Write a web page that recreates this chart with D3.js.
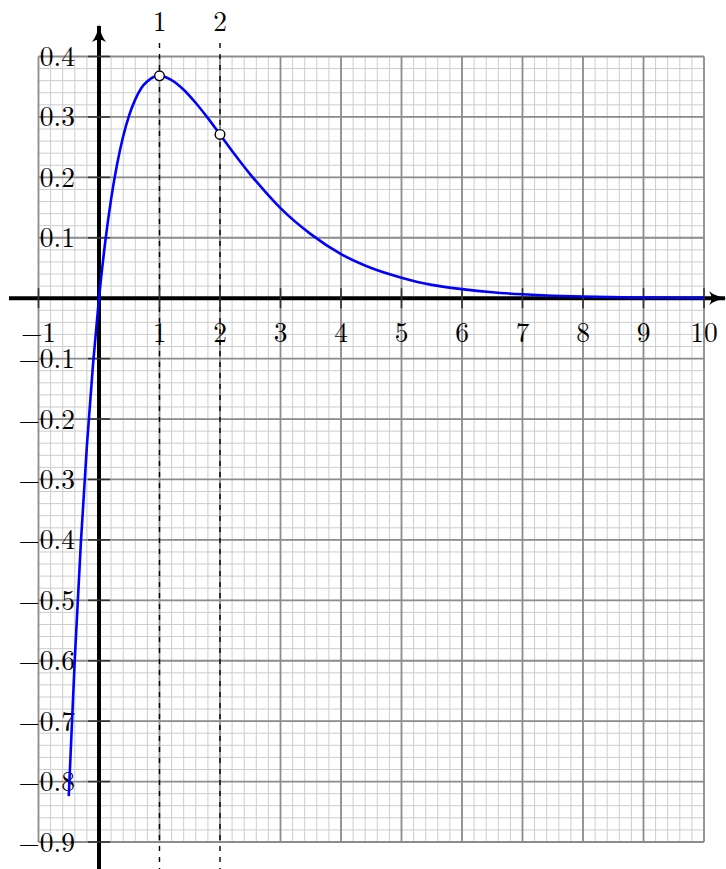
<!DOCTYPE html>
<html>
<head>
<meta charset="utf-8">
<script src="https://cdn.jsdelivr.net/npm/d3@7"></script>
<style>
  body { margin: 0; background: #fff; }
  text { font-family: "Latin Modern Roman", "CMU Serif", "Liberation Serif", serif; font-size: 27.5px; fill: #000; }
</style>
</head>
<body>
<div id="chart"></div>
<script>
// Curve samples
var xVals = [-0.5, -0.4, -0.3, -0.2, -0.1, 0, 0.1, 0.2, 0.3, 0.4, 0.5, 0.6, 0.7, 0.8, 0.9, 1,
    1.2, 1.4, 1.6, 1.8, 2, 2.25, 2.5, 2.75, 3, 3.5, 4, 4.5, 5, 5.5, 6, 6.5, 7, 7.5, 8, 9, 10];
var yVals = [-0.824, -0.597, -0.405, -0.244, -0.111, 0, 0.0905, 0.164, 0.222, 0.268, 0.303, 0.329, 0.348, 0.359, 0.366, 0.368,
    0.361, 0.345, 0.323, 0.298, 0.271, 0.237, 0.205, 0.176, 0.149, 0.106, 0.073, 0.050, 0.034, 0.022, 0.015, 0.0098, 0.0064, 0.0041, 0.0027, 0.0011, 0.00045];

// Marked points and dashed guides
var markX = [1, 2];
var markY = [0.368, 0.271];
var guideLbls = ["1", "2"];

// Tick labels
var xTicks = [-1, 1, 2, 3, 4, 5, 6, 7, 8, 9, 10];
var xTickLbls = ["\u22121", "1", "2", "3", "4", "5", "6", "7", "8", "9", "10"];
var yTicks = [0.4, 0.3, 0.2, 0.1, -0.1, -0.2, -0.3, -0.4, -0.5, -0.6, -0.7, -0.8, -0.9];
var yTickLbls = ["0.4", "0.3", "0.2", "0.1", "\u22120.1", "\u22120.2", "\u22120.3", "\u22120.4", "\u22120.5", "\u22120.6", "\u22120.7", "\u22120.8", "\u22120.9"];

// Set up SVG
var svgWdt = 726;
var svgHgt = 869;

var svg = d3.select("#chart").append("svg")
    .attr("width", svgWdt)
    .attr("height", svgHgt);

// Scales
var xScale = d3.scaleLinear().domain([-1, 10]).range([38.5, 704]);
var yScale = d3.scaleLinear().domain([-0.9, 0.4]).range([842, 56.5]);

// Minor grid
var gridGrp = svg.append("g");
d3.range(-1, 10.001, 0.2).forEach(v => {
    gridGrp.append("line")
        .attr("x1", xScale(v)).attr("x2", xScale(v))
        .attr("y1", yScale(-0.9)).attr("y2", yScale(0.4))
        .attr("stroke", "#cdcdcd").attr("stroke-width", 1);
});
d3.range(-0.9, 0.4001, 0.02).forEach(v => {
    gridGrp.append("line")
        .attr("x1", xScale(-1)).attr("x2", xScale(10))
        .attr("y1", yScale(v)).attr("y2", yScale(v))
        .attr("stroke", "#cdcdcd").attr("stroke-width", 1);
});

// Major grid
d3.range(-1, 10.001, 1).forEach(v => {
    gridGrp.append("line")
        .attr("x1", xScale(v)).attr("x2", xScale(v))
        .attr("y1", yScale(-0.9)).attr("y2", yScale(0.4))
        .attr("stroke", "#8c8c8c").attr("stroke-width", 1.8);
});
d3.range(-0.9, 0.4001, 0.1).forEach(v => {
    gridGrp.append("line")
        .attr("x1", xScale(-1)).attr("x2", xScale(10))
        .attr("y1", yScale(v)).attr("y2", yScale(v))
        .attr("stroke", "#8c8c8c").attr("stroke-width", 1.8);
});

// Dashed guides
svg.selectAll(".guide").data(markX)
    .enter()
    .append("line")
        .attr("class", "guide")
        .attr("x1", d => xScale(d)).attr("x2", d => xScale(d))
        .attr("y1", 43).attr("y2", svgHgt)
        .attr("stroke", "#000").attr("stroke-width", 1.4)
        .attr("stroke-dasharray", "5,6");
svg.selectAll(".guideLbl").data(markX)
    .enter()
    .append("text")
        .attr("x", d => xScale(d))
        .attr("y", 31)
        .attr("text-anchor", "middle")
        .text((d, i) => guideLbls[i]);

// Arrow marker
var defs = svg.append("defs");
defs.append("marker")
    .attr("id", "arr")
    .attr("viewBox", "0 -7 18 14")
    .attr("refX", 16).attr("refY", 0)
    .attr("markerUnits", "userSpaceOnUse")
    .attr("markerWidth", 18).attr("markerHeight", 14)
    .attr("orient", "auto")
    .append("path")
        .attr("d", "M0,-7 Q7,-1.5 18,0 Q7,1.5 0,7 Q5,0 0,-7 Z")
        .attr("fill", "#000");

// Axes
svg.append("line")
    .attr("x1", 9).attr("x2", 725)
    .attr("y1", yScale(0)).attr("y2", yScale(0))
    .attr("stroke", "#000").attr("stroke-width", 4)
    .attr("marker-end", "url(#arr)");
svg.append("line")
    .attr("x1", xScale(0)).attr("x2", xScale(0))
    .attr("y1", svgHgt).attr("y2", 26)
    .attr("stroke", "#000").attr("stroke-width", 4)
    .attr("marker-end", "url(#arr)");

// Axis ticks
svg.selectAll(".xt").data(xTicks)
    .enter()
    .append("line")
        .attr("x1", d => xScale(d)).attr("x2", d => xScale(d))
        .attr("y1", yScale(0) - 10).attr("y2", yScale(0) + 10)
        .attr("stroke", "#333").attr("stroke-width", 1.6);
svg.selectAll(".yt").data(yTicks)
    .enter()
    .append("line")
        .attr("x1", xScale(0) - 11).attr("x2", xScale(0) + 11)
        .attr("y1", d => yScale(d)).attr("y2", d => yScale(d))
        .attr("stroke", "#333").attr("stroke-width", 1.6);

// Tick labels
svg.selectAll(".xl").data(xTicks)
    .enter()
    .append("text")
        .attr("x", d => xScale(d))
        .attr("y", yScale(0) + 44)
        .attr("text-anchor", "middle")
        .text((d, i) => xTickLbls[i]);
svg.selectAll(".yl").data(yTicks)
    .enter()
    .append("text")
        .attr("x", 75)
        .attr("y", d => yScale(d) + 9.5)
        .attr("text-anchor", "end")
        .text((d, i) => yTickLbls[i]);

// Curve
var pts = xVals.map((x, i) => [x, yVals[i]]);
var line = d3.line()
    .x(d => xScale(d[0]))
    .y(d => yScale(d[1]))
    .curve(d3.curveMonotoneX);
svg.append("path")
    .datum(pts)
    .attr("d", line)
    .attr("fill", "none")
    .attr("stroke", "#0000ff")
    .attr("stroke-width", 2.6);

// Marked points
svg.selectAll(".mk").data(markX)
    .enter()
    .append("circle")
        .attr("cx", d => xScale(d))
        .attr("cy", (d, i) => yScale(markY[i]))
        .attr("r", 4.8)
        .attr("fill", "#fff")
        .attr("stroke", "#000")
        .attr("stroke-width", 1.4);
</script>
</body>
</html>
